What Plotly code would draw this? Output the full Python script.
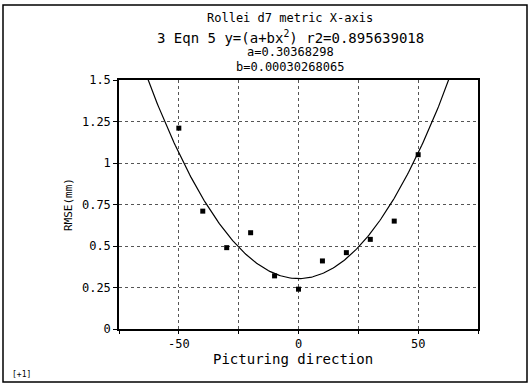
import numpy as np
import plotly.graph_objects as go

# Data
directions = [-50, -40, -30, -20, -10, 0, 10, 20, 30, 40, 50]
rmse = [1.21, 0.71, 0.49, 0.58, 0.32, 0.24, 0.41, 0.46, 0.54, 0.65, 1.05]

# Fit parameters stated in the title
fit_a = 0.30368298
fit_b = 0.00030268065
fit_r2 = 0.895639018

x_tickvals = [-75, -50, -25, 0, 25, 50, 75]
x_ticklabels = ["", "-50", "", "0", "", "50", ""]
y_ticks = [0, 0.25, 0.5, 0.75, 1, 1.25, 1.5]
y_ticklabels = ["0", "0.25", "0.5", "0.75", "1", "1.25", "1.5"]

W, H = 529, 384
ML, MR, MT, MB = 119, 51, 80, 55
PW, PH = W - ML - MR, H - MT - MB

def px(x):
    return (x - ML) / PW

def py(y):
    return (H - MB - y) / PH

FONT = "DejaVu Sans Mono"

xs = np.linspace(-75, 75, 301)
ys = fit_a + fit_b * xs ** 2

fig = go.Figure()
fig.add_trace(go.Scatter(x=xs, y=ys, mode="lines",
                         line=dict(color="black", width=1.2),
                         hoverinfo="skip", showlegend=False))
fig.add_trace(go.Scatter(x=directions, y=rmse, mode="markers",
                         marker=dict(symbol="square", size=5, color="black"),
                         showlegend=False))

fig.update_layout(
    width=W, height=H,
    margin=dict(l=ML, r=MR, t=MT, b=MB),
    paper_bgcolor="white", plot_bgcolor="white",
    font=dict(family=FONT, color="black"),
    xaxis=dict(range=[-75, 75], tickvals=x_tickvals, ticktext=x_ticklabels,
               ticks="outside", ticklen=3, tickcolor="black",
               showline=True, linecolor="black", linewidth=1.5, mirror=True,
               showgrid=True, gridcolor="#555", griddash="dot", gridwidth=1,
               zeroline=False, tickfont=dict(size=12, family=FONT)),
    yaxis=dict(range=[0, 1.5], tickvals=y_ticks, ticktext=y_ticklabels,
               ticks="outside", ticklen=4, tickcolor="black",
               showline=True, linecolor="black", linewidth=1.5, mirror=True,
               showgrid=True, gridcolor="#555", griddash="dot", gridwidth=1,
               zeroline=False, tickfont=dict(size=12, family=FONT),
               title=dict(text="RMSE(mm)", font=dict(size=11, family=FONT), standoff=7)),
)

title_lines = [
    ("Rollei d7 metric X-axis", 18, 12),
    ("3 Eqn 5 y=(a+bx<sup>2</sup>) r2=%s" % fit_r2, 37, 14),
    ("a=%s" % fit_a, 52, 12),
    ("b=%s" % "0.00030268065", 67, 12),
    ("Picturing direction", 359, 14),
]
for text, yc, size in title_lines:
    xc = 293 if text.startswith("Picturing") else 290
    fig.add_annotation(text=text, xref="paper", yref="paper", x=px(xc), y=py(yc),
                       xanchor="center", yanchor="middle", showarrow=False,
                       font=dict(size=size, family=FONT, color="black"))

fig.add_annotation(text="[+1]", xref="paper", yref="paper", x=px(10), y=py(374),
                   xanchor="left", yanchor="middle", showarrow=False,
                   font=dict(size=8, family=FONT, color="black"))

fig.add_shape(type="rect", xref="paper", yref="paper",
              x0=px(3), x1=px(527), y0=py(382), y1=py(5),
              line=dict(color="black", width=1.5))

fig.write_html("out.html", config={"displayModeBar": False},
               post_script="document.body.style.margin='0';document.body.style.overflow='hidden';")
